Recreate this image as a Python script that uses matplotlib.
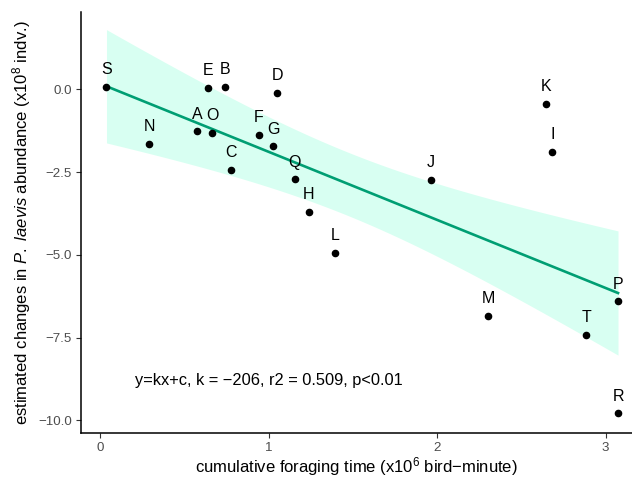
import numpy as np
import matplotlib
matplotlib.use('Agg')
import matplotlib.pyplot as plt

plt.rcParams['font.family'] = ['Liberation Sans', 'DejaVu Sans']
plt.rcParams['mathtext.fontset'] = 'custom'
plt.rcParams['mathtext.rm'] = 'Liberation Sans'
plt.rcParams['mathtext.it'] = 'Liberation Sans:italic'

# sites and values
sites = ['S', 'E', 'B', 'D', 'A', 'O', 'N', 'F', 'G', 'C',
         'Q', 'H', 'J', 'K', 'I', 'L', 'M', 'T', 'P', 'R']
foraging = [0.036, 0.637, 0.742, 1.049, 0.576, 0.665, 0.291, 0.940, 1.025, 0.774,
            1.153, 1.237, 1.961, 2.649, 2.684, 1.393, 2.303, 2.884, 3.074, 3.074]
change = [0.07, 0.04, 0.08, -0.11, -1.27, -1.32, -1.65, -1.37, -1.72, -2.43,
          -2.72, -3.69, -2.74, -0.44, -1.89, -4.93, -6.85, -7.41, -6.40, -9.79]
fit_text = 'y=kx+c, k = \u2212206, r2 = 0.509, p<0.01'

x = np.array(foraging)
y = np.array(change)

# linear fit with 95% confidence band (like geom_smooth(method='lm'))
k, c = np.polyfit(x, y, 1)
n = len(x)
resid = y - (k * x + c)
s = np.sqrt(np.sum(resid ** 2) / (n - 2))
sxx = np.sum((x - x.mean()) ** 2)
t_crit = 2.101  # t(0.975, df=18)
xs = np.linspace(x.min(), x.max(), 100)
ys = k * xs + c
se = s * np.sqrt(1 / n + (xs - x.mean()) ** 2 / sxx)

fig = plt.figure(figsize=(6.32, 4.79), dpi=100)
ax = fig.add_axes([0.128, 0.096, 0.872, 0.879])

ax.fill_between(xs, ys - t_crit * se, ys + t_crit * se, color='#7FFFD4', alpha=0.3, lw=0)
ax.plot(xs, ys, color='#009E73', lw=1.9)
ax.scatter(x, y, s=20, color='black', zorder=3)
for lab, xi, yi in zip(sites, x, y):
    ax.text(xi, yi + 0.52, lab, ha='center', va='center', fontsize=11.5)

ax.text(1.0, -8.8, fit_text, ha='center', va='center', fontsize=11.8)

ax.set_xlim(-0.116, 3.157)
ax.set_ylim(-10.38, 2.34)
ax.set_xticks([0, 1, 2, 3])
ax.set_yticks([0.0, -2.5, -5.0, -7.5, -10.0])
ax.set_yticklabels(['0.0', '\u22122.5', '\u22125.0', '\u22127.5', '\u221210.0'])
ax.tick_params(colors='#333333', labelcolor='#4D4D4D', labelsize=9.6, length=3.5, width=0.8, pad=3)

for side in ['top', 'right']:
    ax.spines[side].set_visible(False)
for side in ['left', 'bottom']:
    ax.spines[side].set_linewidth(1.1)

ax.set_xlabel('cumulative foraging time (x10$^6$ bird\u2212minute)', fontsize=12, labelpad=1)
ax.set_ylabel('estimated changes in $\\it{P.}$ $\\it{laevis}$ abundance (x10$^8$ indv.)',
              fontsize=12, labelpad=4)

fig.savefig('out.png', dpi=100)
